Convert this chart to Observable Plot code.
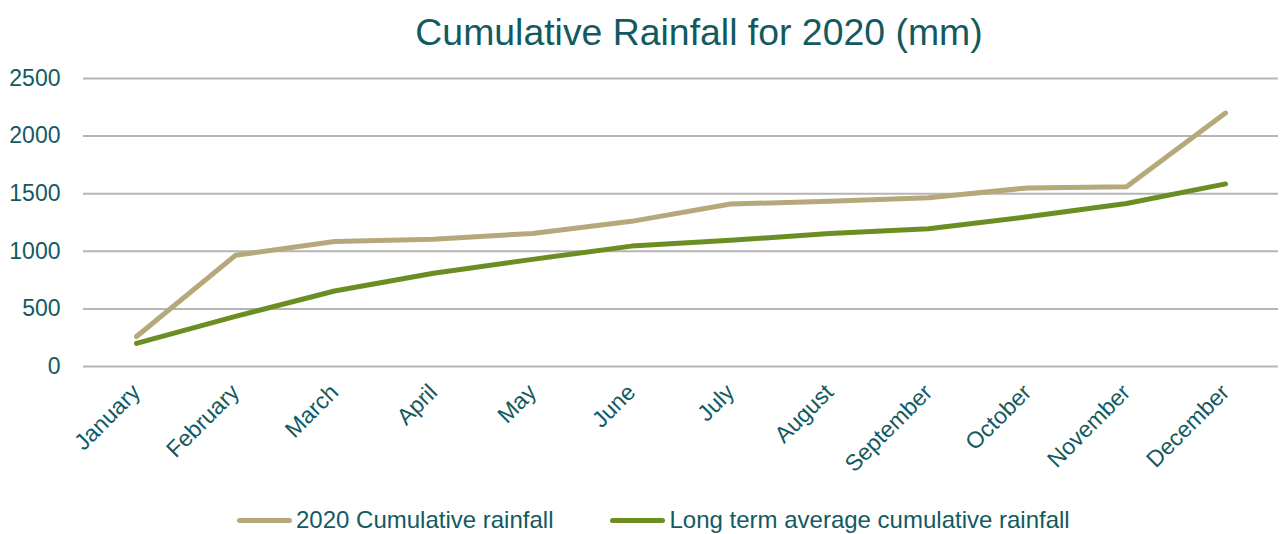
<!DOCTYPE html>
<html>
<head>
<meta charset="utf-8">
<script src="https://cdn.jsdelivr.net/npm/d3@7"></script>
<script src="https://cdn.jsdelivr.net/npm/@observablehq/plot@0.6"></script>
<style>
  html, body { margin: 0; padding: 0; background: #fff; }
  #page { position: relative; width: 1285px; height: 534px; overflow: hidden; font-family: "Liberation Sans", Arial, sans-serif; color: #125a62; }
  #title { position: absolute; top: 14px; left: 699px; transform: translateX(-50%); white-space: nowrap; font-size: 37.4px; line-height: 37px; color: #125a62; }
  #chart { position: absolute; top: 60px; left: 0; }
  #legend { position: absolute; top: 508px; left: 237px; display: flex; gap: 57px; font-size: 24px; line-height: 24px; white-space: nowrap; }
  .item { display: flex; align-items: center; }
  .sw { width: 55px; height: 5px; border-radius: 3px; margin-right: 4px; }
</style>
</head>
<body>
<div id="page">
  <div id="title">Cumulative Rainfall for 2020 (mm)</div>
  <div id="chart"></div>
  <div id="legend"></div>
</div>
<script>
const months = ["January","February","March","April","May","June","July","August","September","October","November","December"];
const seriesNames = ["2020 Cumulative rainfall", "Long term average cumulative rainfall"];
const rainfall2020 = [260, 965, 1085, 1105, 1155, 1260, 1410, 1435, 1465, 1550, 1560, 2200];
const longTermAverage = [200, 435, 655, 810, 930, 1045, 1095, 1155, 1195, 1300, 1415, 1585];
const yTicks = [0, 500, 1000, 1500, 2000, 2500];
const seriesColors = ["#b5a97c", "#6b8e23"];

const data = [];
months.forEach((m, i) => {
  data.push({month: m, value: rainfall2020[i], series: seriesNames[0]});
});
months.forEach((m, i) => {
  data.push({month: m, value: longTermAverage[i], series: seriesNames[1]});
});

const chart = Plot.plot({
  width: 1285,
  height: 440,
  marginLeft: 83,
  marginRight: 7,
  marginTop: 18,
  marginBottom: 134,
  style: {fontFamily: '"Liberation Sans", Arial, sans-serif', color: "#125a62", background: "transparent"},
  x: {type: "point", domain: months, padding: 0.5, label: null},
  y: {domain: [0, 2500], label: null},
  color: {domain: seriesNames, range: seriesColors},
  marks: [
    Plot.ruleY(yTicks, {stroke: "#b5b5b5", strokeWidth: 2}),
    Plot.axisY({ticks: yTicks, tickFormat: d => String(d), tickSize: 0, tickPadding: 23, fontSize: 23, label: null}),
    Plot.axisX({tickSize: 0, tickPadding: 22, tickRotate: -45, fontSize: 23, label: null}),
    Plot.line(data, {x: "month", y: "value", z: "series", stroke: "series", strokeWidth: 5, strokeLinecap: "round", strokeLinejoin: "round"})
  ]
});
document.getElementById("chart").appendChild(chart);

const legend = document.getElementById("legend");
seriesNames.forEach((name, i) => {
  const item = document.createElement("div");
  item.className = "item";
  const sw = document.createElement("div");
  sw.className = "sw";
  sw.style.background = seriesColors[i];
  const label = document.createElement("span");
  label.textContent = name;
  item.appendChild(sw);
  item.appendChild(label);
  legend.appendChild(item);
});
</script>
</body>
</html>
